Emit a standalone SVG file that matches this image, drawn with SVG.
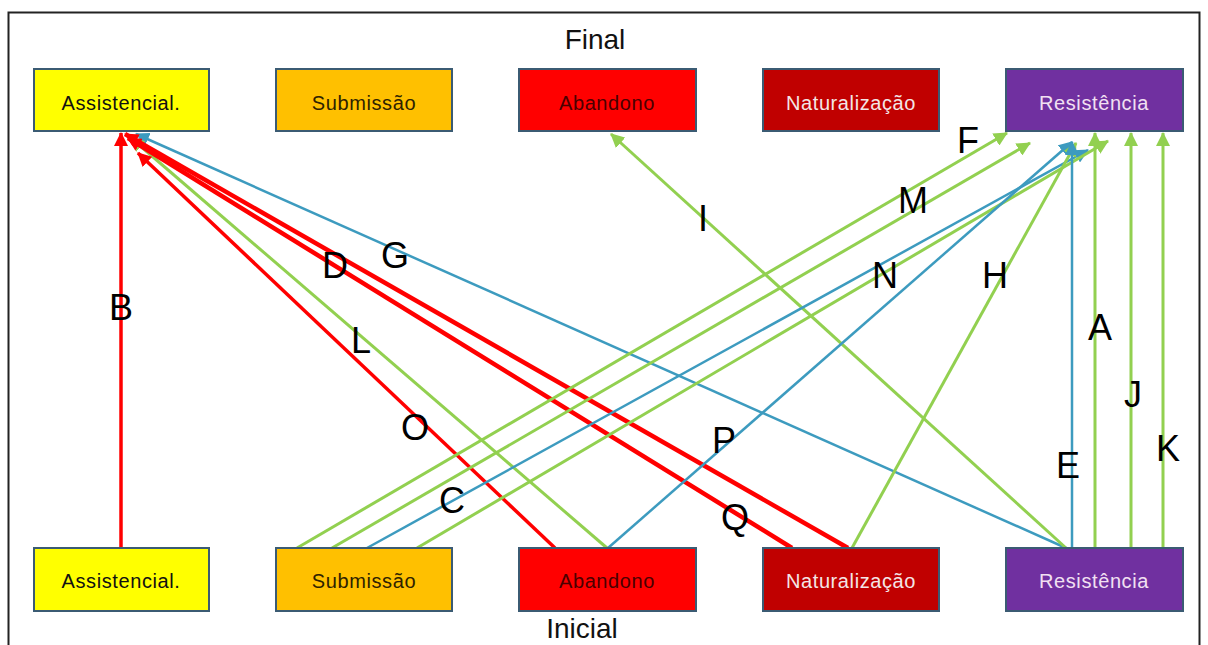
<svg xmlns="http://www.w3.org/2000/svg" width="1208" height="645" viewBox="0 0 1208 645">
<defs>
<style>
.node rect{stroke:#3b5b73;stroke-width:2}
.nt{font-family:"Liberation Sans",Arial,sans-serif;font-size:20px;letter-spacing:0.6px;text-anchor:middle}
.title{font-family:"Liberation Sans",Arial,sans-serif;font-size:28px;text-anchor:middle;fill:#111}
.lbl{font-family:"Liberation Sans",Arial,sans-serif;font-size:36px;text-anchor:middle;fill:#000}
.g{stroke:#92d050;stroke-width:3;fill:none;marker-end:url(#ag)}
.b{stroke:#3d9bbf;stroke-width:2.5;fill:none;marker-end:url(#ab)}
.r{stroke:#ff0000;stroke-width:3.5;fill:none;marker-end:url(#ar)}
.rt{stroke:#ff0000;stroke-width:4.5;fill:none;marker-end:url(#ar)}
</style>
<marker id="ag" markerUnits="userSpaceOnUse" markerWidth="16" markerHeight="14" refX="13" refY="7" orient="auto"><path d="M0,0 L14,7 L0,14 z" fill="#92d050"/></marker>
<marker id="ab" markerUnits="userSpaceOnUse" markerWidth="16" markerHeight="14" refX="13" refY="7" orient="auto"><path d="M0,0 L14,7 L0,14 z" fill="#3d9bbf"/></marker>
<marker id="ar" markerUnits="userSpaceOnUse" markerWidth="16" markerHeight="14" refX="13" refY="7" orient="auto"><path d="M0,0 L14,7 L0,14 z" fill="#ff0000"/></marker>
</defs>
<rect x="0" y="0" width="1208" height="645" fill="#fff"/>
<rect x="8.5" y="12.5" width="1191" height="640" fill="none" stroke="#222" stroke-width="2"/>
<text class="title" x="595" y="49">Final</text>
<text class="title" x="582" y="638">Inicial</text>

<g id="connectors">
<line class="r" x1="121" y1="548" x2="121" y2="133"/>
<line class="b" x1="1066" y1="548" x2="136" y2="134"/>
<line class="g" x1="607" y1="548" x2="131" y2="138"/>
<line class="r" x1="555" y1="548" x2="138" y2="153"/>
<line class="rt" x1="848" y1="548" x2="125" y2="134"/>
<line class="rt" x1="792" y1="548" x2="128" y2="138"/>
<line class="g" x1="1066" y1="548" x2="611" y2="134"/>
<line class="g" x1="297" y1="548" x2="1007" y2="133"/>
<line class="g" x1="332" y1="548" x2="1030" y2="143"/>
<line class="b" x1="367" y1="548" x2="1088" y2="150"/>
<line class="g" x1="417" y1="548" x2="1108" y2="141"/>
<line class="b" x1="608" y1="548" x2="1072" y2="142"/>
<line class="g" x1="852" y1="548" x2="1076" y2="143"/>
<line class="b" x1="1072" y1="548" x2="1072" y2="142"/>
<line class="g" x1="1095" y1="548" x2="1095" y2="133"/>
<line class="g" x1="1131" y1="548" x2="1131" y2="133"/>
<line class="g" x1="1163" y1="548" x2="1163" y2="133"/>
</g>

<g id="labels">
<text class="lbl" x="968" y="153">F</text>
<text class="lbl" x="913" y="213">M</text>
<text class="lbl" x="703" y="231">I</text>
<text class="lbl" x="395" y="268">G</text>
<text class="lbl" x="335" y="278">D</text>
<text class="lbl" x="885" y="288">N</text>
<text class="lbl" x="995" y="288">H</text>
<text class="lbl" x="121" y="320">B</text>
<text class="lbl" x="361" y="353">L</text>
<text class="lbl" x="1100" y="340">A</text>
<text class="lbl" x="415" y="440">O</text>
<text class="lbl" x="1133" y="407">J</text>
<text class="lbl" x="724" y="453">P</text>
<text class="lbl" x="1168" y="461">K</text>
<text class="lbl" x="1068" y="478">E</text>
<text class="lbl" x="452" y="513">C</text>
<text class="lbl" x="735" y="530">Q</text>
</g>

<g id="final-assistencial" class="node"><rect x="34" y="69" width="175" height="62" fill="#ffff00"/><text class="nt" x="121" y="110" fill="#111">Assistencial.</text></g>
<g id="final-submissao" class="node"><rect x="276" y="69" width="176" height="62" fill="#ffc000"/><text class="nt" x="364" y="110" fill="#2e2200">Submissão</text></g>
<g id="final-abandono" class="node"><rect x="519" y="69" width="177" height="62" fill="#ff0000"/><text class="nt" x="607" y="110" fill="#4a0000">Abandono</text></g>
<g id="final-naturalizacao" class="node"><rect x="763" y="69" width="176" height="62" fill="#c00000"/><text class="nt" x="851" y="110" fill="#f4e6e6">Naturalização</text></g>
<g id="final-resistencia" class="node"><rect x="1006" y="69" width="177" height="62" fill="#7030a0"/><text class="nt" x="1094" y="110" fill="#f2e0f2">Resistência</text></g>

<g id="inicial-assistencial" class="node"><rect x="34" y="548" width="175" height="63" fill="#ffff00"/><text class="nt" x="121" y="588" fill="#111">Assistencial.</text></g>
<g id="inicial-submissao" class="node"><rect x="276" y="548" width="176" height="63" fill="#ffc000"/><text class="nt" x="364" y="588" fill="#2e2200">Submissão</text></g>
<g id="inicial-abandono" class="node"><rect x="519" y="548" width="177" height="63" fill="#ff0000"/><text class="nt" x="607" y="588" fill="#4a0000">Abandono</text></g>
<g id="inicial-naturalizacao" class="node"><rect x="763" y="548" width="176" height="63" fill="#c00000"/><text class="nt" x="851" y="588" fill="#f4e6e6">Naturalização</text></g>
<g id="inicial-resistencia" class="node"><rect x="1006" y="548" width="177" height="63" fill="#7030a0"/><text class="nt" x="1094" y="588" fill="#f2e0f2">Resistência</text></g>
</svg>
